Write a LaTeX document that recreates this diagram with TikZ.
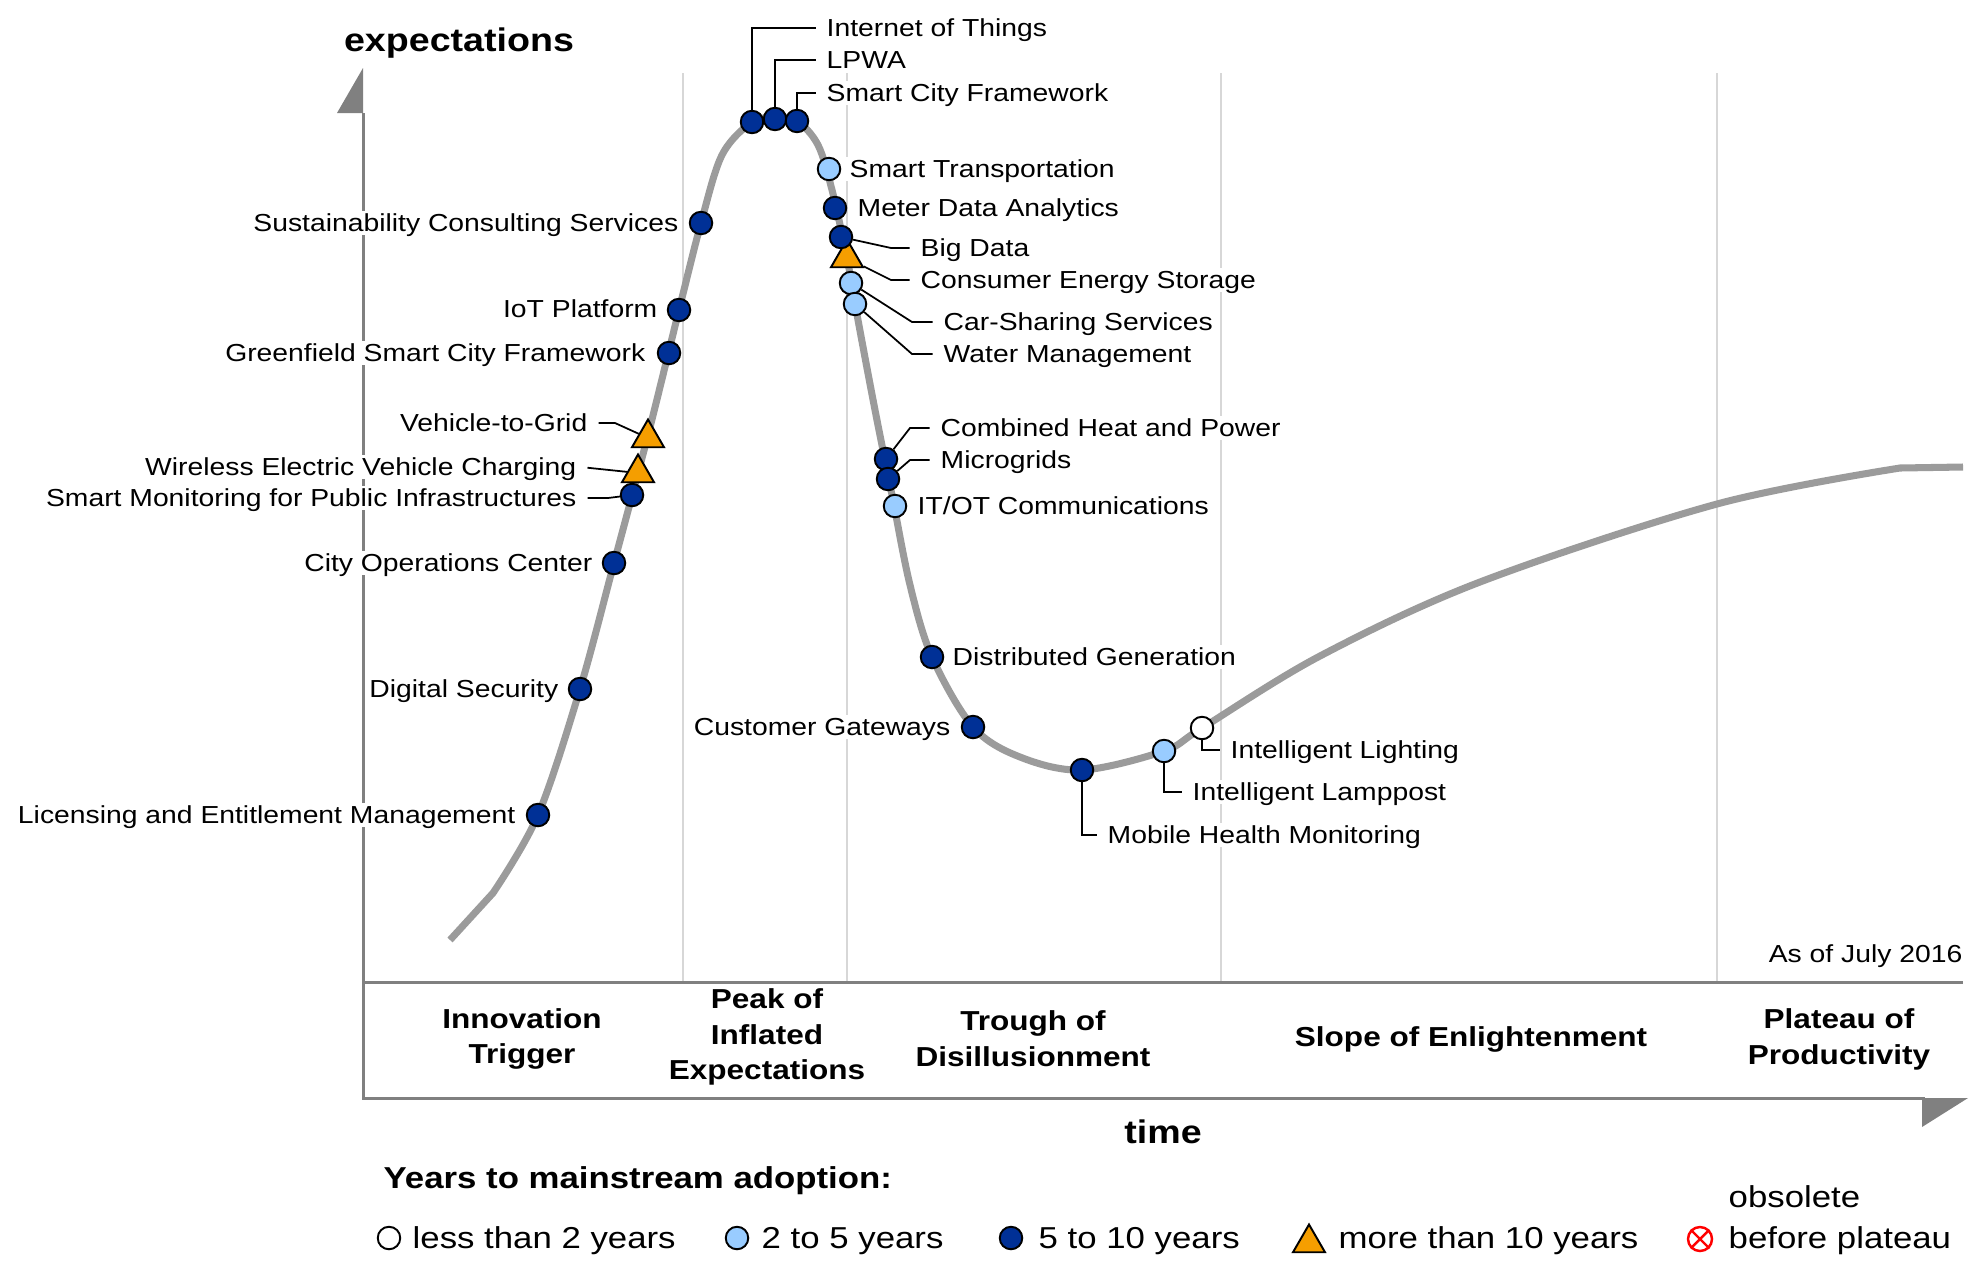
\documentclass[tikz,border=0pt]{standalone}
\usepackage{fontspec}
\setmainfont[FakeStretch=1.15]{Liberation Sans}
\usetikzlibrary{shapes.geometric}
\definecolor{navy}{RGB}{0,48,150}
\definecolor{sky}{RGB}{153,204,255}
\definecolor{amber}{RGB}{245,158,0}
\definecolor{curvegray}{RGB}{155,155,155}
\definecolor{axisgray}{RGB}{128,128,128}
\definecolor{divgray}{RGB}{215,215,215}
\begin{document}
\begin{tikzpicture}
[x=0.01cm,y=-0.01cm,
 dot/.style={shape=circle,draw,line width=0.55pt,inner sep=0pt,minimum size=0.225cm},
 lt2/.style={dot,fill=white},
 to5/.style={dot,fill=sky},
 to10/.style={dot,fill=navy},
 gt10/.style={shape=regular polygon,regular polygon sides=3,draw,line width=0.55pt,fill=amber,inner sep=0pt,minimum size=0.37cm},
 lbl/.style={font=\fontsize{7}{8.4}\selectfont,fill=white,inner xsep=1pt,inner ysep=0.8pt,text height=5pt,text depth=0pt},
 lead/.style={line width=0.5pt,shorten >=0.07cm},
 phase/.style={font=\fontsize{7.8}{10.2}\selectfont\bfseries,align=center},
 legend/.style={font=\fontsize{8.6}{10}\selectfont,inner sep=0pt,text height=6.2pt,text depth=0pt,anchor=west}]
\useasboundingbox (0,0) rectangle (1970,1260);
\foreach \x in {683,847,1221,1717}
  \draw [divgray,line width=0.7pt] (\x,73) -- (\x,982);
\draw [axisgray,line width=0.85pt] (363,113) -- (363,1098) -- (1925,1098) (363,982) -- (1963,982);
\fill [axisgray] (363,68) -- (337,113) -- (363,113) -- cycle;
\fill [axisgray] (1922,1098) -- (1968,1098) -- (1922,1127) -- cycle;
\draw [curvegray,line width=2pt] (450,940) -- plot [smooth,tension=0.55] coordinates {(493,893) (538,815) (580,689) (614,563) (648,435) (679,310) (701,223) (722,155) (752,122) (775,118) (797,121) (818,145) (832,190) (847,258) (858,320) (875,410) (892,495) (910,585) (932,657) (973,727) (1020,757) (1082,770) (1164,751) (1202,728) (1320,656) (1480,582) (1717,504) (1900,468)} -- (1963,467);
\path (538,815) node (lic) [to10] {}
(580,689) node (dsec) [to10] {}
(614,563) node (coc) [to10] {}
(632,495) node (smpi) [to10] {}
(638,473) node (wevc) [gt10] {}
(648,438) node (v2g) [gt10] {}
(669,353) node (gscf) [to10] {}
(679,310) node (iotp) [to10] {}
(701,223) node (scs) [to10] {}
(752,122) node (iot) [to10] {}
(775,119) node (lpwa) [to10] {}
(797,121) node (scf) [to10] {}
(829,169) node (st) [to5] {}
(835,208) node (mda) [to10] {}
(847,258) node (ces) [gt10] {}
(841,237) node (bd) [to10] {}
(851,283) node (css) [to5] {}
(855,304) node (wm) [to5] {}
(886,459) node (chp) [to10] {}
(888,479) node (mg) [to10] {}
(895,506) node (itot) [to5] {}
(932,657) node (dg) [to10] {}
(973,727) node (cg) [to10] {}
(1082,770) node (mhm) [to10] {}
(1164,751) node (ilp) [to5] {}
(1202,728) node (ilt) [lt2] {};
\path (519.5,815) node (t-lic) [lbl,anchor=east] {Licensing and Entitlement Management}
(562.5,689) node (t-dsec) [lbl,anchor=east] {Digital Security}
(596.5,563) node (t-coc) [lbl,anchor=east] {City Operations Center}
(580.5,498) node (t-smpi) [lbl,anchor=east] {Smart Monitoring for Public Infrastructures}
(580.5,467) node (t-wevc) [lbl,anchor=east] {Wireless Electric Vehicle Charging}
(591.5,423) node (t-v2g) [lbl,anchor=east] {Vehicle-to-Grid}
(649.5,353) node (t-gscf) [lbl,anchor=east] {Greenfield Smart City Framework}
(661.5,309) node (t-iotp) [lbl,anchor=east] {IoT Platform}
(682.5,223) node (t-scs) [lbl,anchor=east] {Sustainability Consulting Services}
(954.5,727) node (t-cg) [lbl,anchor=east] {Customer Gateways}
(822.5,28) node (t-iot) [lbl,anchor=west] {Internet of Things}
(822.5,60) node (t-lpwa) [lbl,anchor=west] {LPWA}
(822.5,93) node (t-scf) [lbl,anchor=west] {Smart City Framework}
(845.5,169) node (t-st) [lbl,anchor=west] {Smart Transportation}
(853.5,208) node (t-mda) [lbl,anchor=west] {Meter Data Analytics}
(916.5,248) node (t-bd) [lbl,anchor=west] {Big Data}
(916.5,280) node (t-ces) [lbl,anchor=west] {Consumer Energy Storage}
(939.5,322) node (t-css) [lbl,anchor=west] {Car-Sharing Services}
(939.5,354) node (t-wm) [lbl,anchor=west] {Water Management}
(936.5,428) node (t-chp) [lbl,anchor=west] {Combined Heat and Power}
(936.5,460) node (t-mg) [lbl,anchor=west] {Microgrids}
(913.5,506) node (t-itot) [lbl,anchor=west] {IT/OT Communications}
(948.5,657) node (t-dg) [lbl,anchor=west] {Distributed Generation}
(1103.5,835) node (t-mhm) [lbl,anchor=west] {Mobile Health Monitoring}
(1188.5,792) node (t-ilp) [lbl,anchor=west] {Intelligent Lamppost}
(1226.5,750) node (t-ilt) [lbl,anchor=west] {Intelligent Lighting};
\draw [lead] (iot) |- (t-iot.west);
\draw [lead] (lpwa) |- (t-lpwa.west);
\draw [lead] (scf) |- (t-scf.west);
\draw [lead] (bd) -- (891,248) -- (t-bd.west);
\draw [lead] (ces) -- (891,280) -- (t-ces.west);
\draw [lead] (css) -- (912,322) -- (t-css.west);
\draw [lead] (wm) -- (912,354) -- (t-wm.west);
\draw [lead] (chp) -- (910,428) -- (t-chp.west);
\draw [lead] (mg) -- (910,460) -- (t-mg.west);
\draw [lead] (mhm) |- (t-mhm.west);
\draw [lead] (ilp) |- (t-ilp.west);
\draw [lead] (ilt) |- (t-ilt.west);
\draw [lead] (smpi) -- (608,498) -- (t-smpi.east);
\draw [lead] (wevc) -- (t-wevc.east);
\draw [lead] (v2g) -- (615,423) -- (t-v2g.east);
\path (459,40) node (ylab) [font=\fontsize{9.3}{11}\selectfont\bfseries,inner sep=0pt,text height=6.7pt,text depth=0pt] {expectations}
(1163,1132) node (xlab) [font=\fontsize{9.3}{11}\selectfont\bfseries,inner sep=0pt,text height=6.7pt,text depth=0pt] {time}
(1963,954) node (asof) [font=\fontsize{7}{8.4}\selectfont,inner sep=0pt,text height=5pt,text depth=0pt,anchor=east] {As of July 2016};
\path (522,1039) node (p1) [phase] {Innovation\\Trigger}
(767,1037) node (p2) [phase] {Peak of\\Inflated\\Expectations}
(1033,1039) node (p3) [phase] {Trough of\\Disillusionment}
(1471,1039) node (p4) [phase] {Slope of Enlightenment}
(1839,1039) node (p5) [phase] {Plateau of\\Productivity};
\path (383,1178) node (yrs) [legend,font=\fontsize{8.6}{10}\selectfont\bfseries] {Years to mainstream adoption:}
(389,1238) node (k1) [lt2] {}
(737,1238) node (k2) [to5] {}
(1011,1238) node (k3) [to10] {}
(1309,1243) node (k4) [gt10] {}
(1700,1239) node (k5) [circle,draw=red,line width=0.7pt,inner sep=0pt,minimum size=0.24cm] {}
(412,1238) node (t-k1) [legend] {less than 2 years}
(761,1238) node (t-k2) [legend] {2 to 5 years}
(1038,1238) node (t-k3) [legend] {5 to 10 years}
(1338,1238) node (t-k4) [legend] {more than 10 years}
(1728,1197) node (t-k5a) [legend] {obsolete}
(1728,1238) node (t-k5) [legend] {before plateau};
\draw [red,line width=0.7pt] (k5.north west) -- (k5.south east) (k5.north east) -- (k5.south west);
\end{tikzpicture}
\end{document}
